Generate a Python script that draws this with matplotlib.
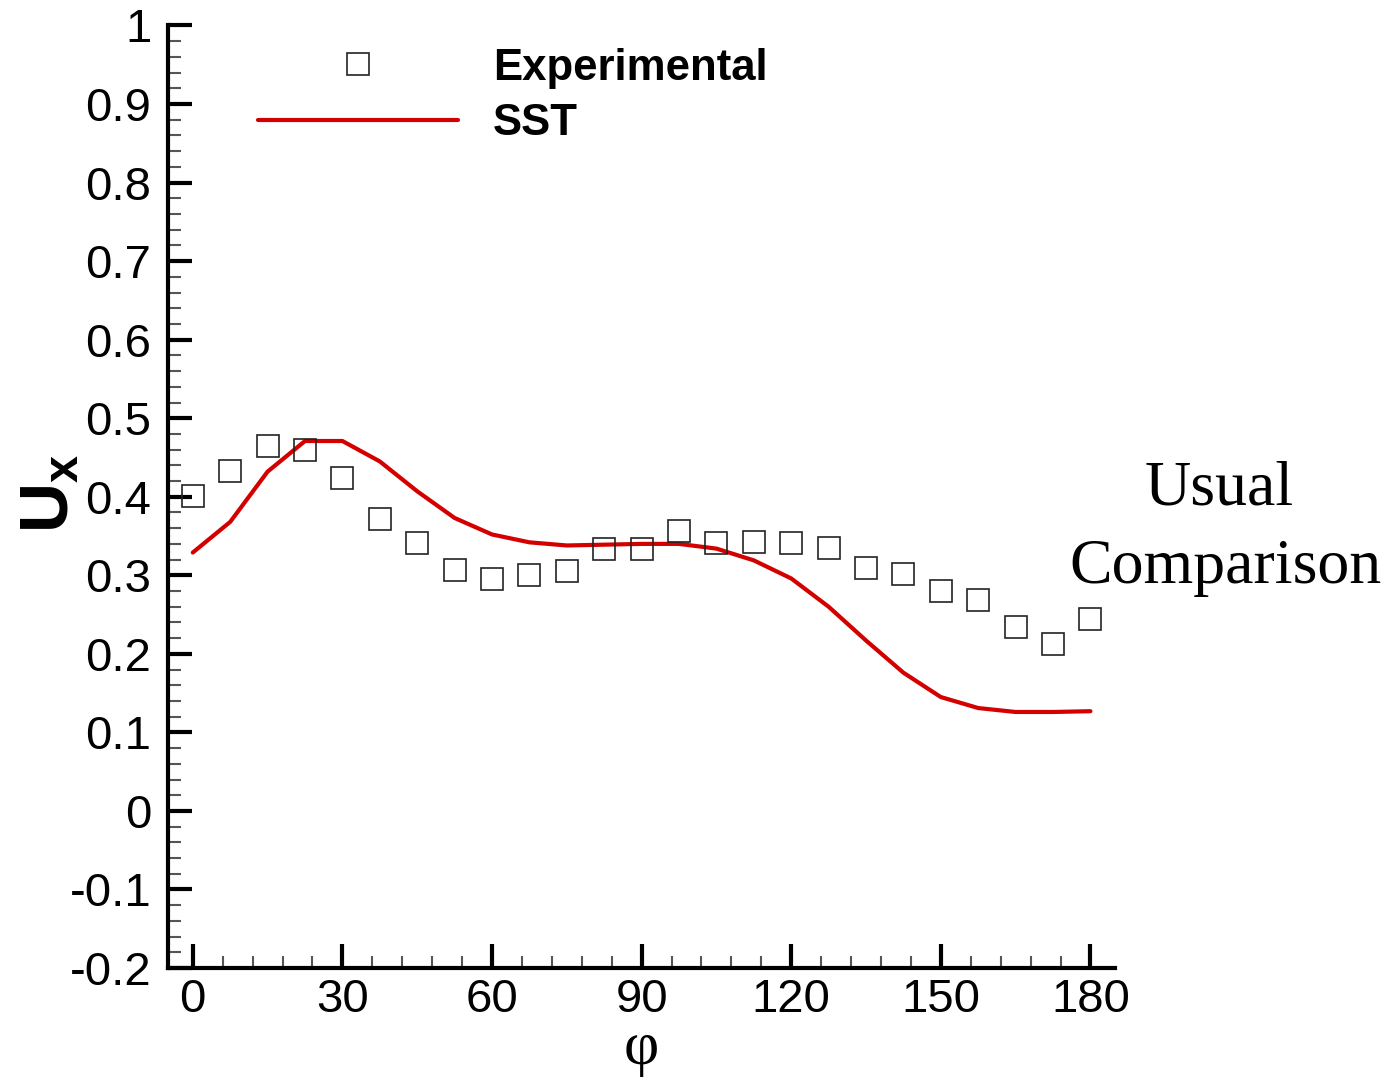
import numpy as np
import matplotlib
matplotlib.use("Agg")
import matplotlib.pyplot as plt
from matplotlib.ticker import MultipleLocator

# experimental points, every 7.5 degrees
phi_exp = np.arange(0, 180.1, 7.5)
ux_exp = [0.401, 0.433, 0.464, 0.460, 0.424, 0.372, 0.341, 0.307, 0.295,
          0.301, 0.306, 0.334, 0.334, 0.356, 0.341, 0.343, 0.341, 0.335,
          0.309, 0.302, 0.280, 0.268, 0.234, 0.212, 0.245]

# SST model prediction
phi_sst = np.arange(0, 180.1, 7.5)
ux_sst = [0.329, 0.368, 0.432, 0.471, 0.471, 0.445, 0.407, 0.373, 0.352,
          0.342, 0.338, 0.339, 0.340, 0.340, 0.334, 0.319, 0.296, 0.260,
          0.217, 0.176, 0.145, 0.131, 0.126, 0.126, 0.127]

plt.rcParams['font.family'] = ['Liberation Sans', 'DejaVu Sans']
plt.rcParams['mathtext.fontset'] = 'custom'
plt.rcParams['mathtext.rm'] = 'Liberation Sans'
plt.rcParams['mathtext.bf'] = 'Liberation Sans:bold'

fig = plt.figure(figsize=(13.93, 10.85), dpi=100)
ax = fig.add_axes([0.1205, 0.1078, 0.6802, 0.8687])

ax.plot(phi_exp, ux_exp, linestyle='none', marker='s', markersize=15.5,
        markerfacecolor='none', markeredgecolor='#222222',
        markeredgewidth=1.2, label='Experimental', zorder=3)
ax.plot(phi_sst, ux_sst, color='#d40000', linewidth=3.0,
        solid_capstyle='round', label='SST', zorder=2)

ax.set_xlim(-5, 185)
ax.set_ylim(-0.2, 1.0)
ax.xaxis.set_major_locator(MultipleLocator(30))
ax.xaxis.set_minor_locator(MultipleLocator(6))
ax.yaxis.set_major_locator(MultipleLocator(0.1))
ax.yaxis.set_minor_locator(MultipleLocator(0.02))
ax.yaxis.set_major_formatter(plt.FuncFormatter(
    lambda v, p: '0' if abs(v) < 1e-9 else ('1' if abs(v - 1) < 1e-9 else f'{v:.1f}')))

for s in ['top', 'right']:
    ax.spines[s].set_visible(False)
for s in ['left', 'bottom']:
    ax.spines[s].set_linewidth(3.0)
    ax.spines[s].set_capstyle('projecting')

ax.tick_params(which='major', direction='in', length=17, width=3.0,
               labelsize=34, colors='black')
ax.tick_params(axis='y', which='major', pad=12)
ax.tick_params(axis='x', which='major', pad=7)
ax.tick_params(which='minor', direction='in', length=9, width=1.5,
               color='#555555')

ax.set_xlabel('φ', fontfamily='Liberation Serif', fontsize=44, labelpad=0)
fig.text(0.036, 0.545, r'$\mathbf{U_x}$', rotation=90, fontsize=50,
         ha='center', va='center')

leg = ax.legend(loc='upper left', bbox_to_anchor=(0.1852, 0.956),
                bbox_transform=fig.transFigure, frameon=False,
                prop={'weight': 'bold', 'size': 31.5}, handlelength=4.57,
                handletextpad=0.8, labelspacing=0.33, borderpad=0,
                borderaxespad=0, numpoints=1)

# annotation on the right, one line at a time
fig.text(0.8755, 0.5346, 'Usual', fontfamily='Liberation Serif',
         fontsize=46, ha='center', va='baseline')
fig.text(0.8795, 0.4627, 'Comparison', fontfamily='Liberation Serif',
         fontsize=46, ha='center', va='baseline')

fig.savefig('out.png', dpi=100)
